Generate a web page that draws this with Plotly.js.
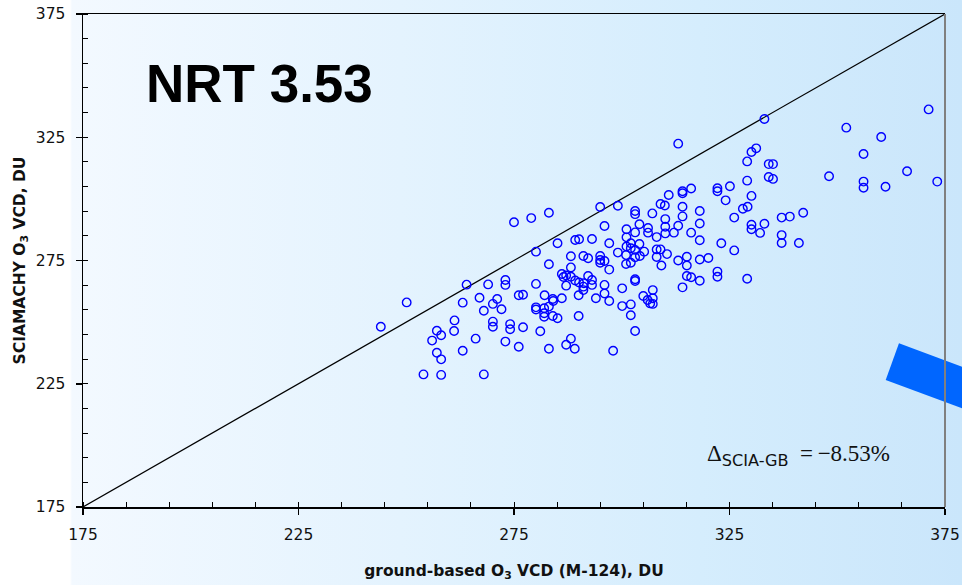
<!DOCTYPE html>
<html>
<head>
<meta charset="utf-8">
<script src="https://cdn.plot.ly/plotly-3.0.1.min.js"></script>
<style>
html,body{margin:0;padding:0;}
body{width:962px;height:585px;overflow:hidden;
background:linear-gradient(to right,#ffffff 0px,#ffffff 70px,#f3f9ff 72px,#e4f3fe 400px,#d5edfd 700px,#cae6fb 962px);}
#chart{width:962px;height:585px;}
</style>
</head>
<body>
<div id="chart"></div>
<script>
// ground-based O3 VCD (M-124), DU
const groundBased = [
244.1,250.1,254.0,256.0,257.1,257.1,258.1,258.1,258.1,261.2,261.1,263.1,263.1,264.0,266.1,267.0,268.0,268.0,269.0,270.1,
270.1,270.1,271.1,272.1,273.0,273.0,273.0,274.1,274.1,275.0,276.1,276.1,277.1,277.1,279.0,280.1,280.1,280.1,280.1,281.1,
282.1,282.0,282.0,282.0,283.1,283.1,283.1,283.1,284.0,284.1,284.0,285.1,285.1,
286.1,286.1,286.5,287.1,287.1,287.1,288.2,288.2,288.2,288.2,289.1,289.2,290.1,289.2,290.1,290.0,290.0,291.1,291.1,291.1,
292.2,292.2,293.1,293.1,293.1,294.0,295.0,295.0,295.0,295.0,296.0,296.0,296.0,296.0,297.1,297.1,297.1,298.0,299.1,299.1,
300.1,300.1,291.2,
301.1,301.1,301.1,301.0,301.0,302.1,302.1,302.1,302.1,302.1,303.1,303.1,303.1,303.1,303.1,303.1,303.1,303.1,304.1,304.1,
304.2,305.0,305.2,306.1,306.1,306.0,306.6,307.1,307.2,307.2,307.2,308.1,308.1,308.1,309.0,309.2,309.0,310.0,310.1,310.1,
310.1,310.5,310.9,312.1,313.1,313.1,313.1,314.1,314.1,314.1,314.1,314.1,315.1,315.1,315.1,316.1,316.1,316.1,318.1,318.1,
318.1,318.1,318.1,
320.1,322.2,322.2,322.2,322.2,323.1,324.1,325.1,326.1,326.1,328.1,329.2,329.1,329.1,329.1,330.1,330.1,330.1,330.1,331.2,
332.1,333.1,333.1,334.1,335.1,334.1,335.1,337.1,337.1,337.1,339.0,341.1,342.1,348.1,352.1,356.1,356.1,356.1,360.2,361.2,
366.2,371.2,373.2
];
// SCIAMACHY O3 VCD, DU
const sciamachy = [
248.1,258.0,228.8,242.5,246.5,237.6,244.7,234.9,228.6,250.7,246.4,257.9,238.4,265.2,243.3,259.9,254.6,228.8,265.3,257.4,
250.2,248.1,259.4,255.2,267.1,265.1,242.1,249.2,247.1,290.5,260.9,240.0,261.1,247.9,292.2,278.6,265.5,256.0,255.1,246.3,
260.9,255.6,253.6,252.2,294.4,273.5,256.3,239.2,259.4,258.6,252.5,282.0,251.6,
259.7,269.5,268.3,268.9,264.8,240.8,276.7,272.2,268.4,243.3,239.2,283.3,283.6,266.9,266.1,260.9,252.5,276.8,264.4,263.0,
275.9,268.7,283.7,267.1,265.1,259.7,296.7,276.8,275.2,274.1,274.8,289.0,265.1,261.6,282.0,271.3,258.6,238.4,297.2,278.2,
263.7,256.5,265.8,
287.7,284.4,280.7,277.2,273.6,282.0,280.0,274.1,257.2,252.8,295.1,293.8,286.4,279.3,276.3,267.4,266.7,246.4,289.7,281.7,
276.8,260.6,278.6,288.2,286.3,259.0,257.6,294.1,263.0,259.7,257.4,284.5,279.5,276.4,279.5,273.0,297.9,297.3,291.8,288.7,
286.0,277.6,301.6,286.3,322.4,289.1,275.0,303.1,302.3,296.8,292.9,264.1,276.5,273.0,268.7,304.2,286.3,268.2,295.1,290.0,
283.2,275.4,266.8,
276.0,304.3,303.1,270.5,268.4,282.0,299.4,305.1,292.4,279.1,296.0,296.8,315.2,307.4,267.6,319.0,301.2,289.5,287.7,320.5,
286.2,332.4,289.9,314.1,314.1,308.9,308.1,292.4,285.3,282.1,292.8,282.1,294.4,309.2,328.9,318.2,307.0,304.5,325.1,304.9,
311.2,336.3,307.0
];
const axisRange = [175, 375];
const tickValues = [175, 225, 275, 325, 375];
const chartLabel = 'NRT 3.53';
const deltaLabel = 'Δ<sub><span style="font-family:DejaVu Sans, Arial">SCIA-GB</span></sub>\u2002=\u2009−8.53%';

const sans = 'Liberation Sans, Arial, sans-serif';
const wide = 'DejaVu Sans, Arial, sans-serif';

const traces = [
  {x: axisRange, y: axisRange, mode: 'lines', line: {color: '#000', width: 1.2}, hoverinfo: 'skip', showlegend: false},
  {x: groundBased, y: sciamachy, mode: 'markers', type: 'scatter', showlegend: false,
   marker: {symbol: 'circle-open', size: 8.5, color: '#0000ff', line: {color: '#0000ff', width: 1.4}}}
];

const axisCommon = {
  range: axisRange, tickvals: tickValues, ticktext: tickValues.map(String),
  showgrid: false, zeroline: false, showline: true, linecolor: '#000', linewidth: 1.5,
  ticks: 'outside', ticklen: 6, tickwidth: 1.5, tickcolor: '#000',
  tickfont: {family: wide, size: 15.5, color: '#111'},
  minor: {dtick: 10, tick0: 175, ticks: 'inside', ticklen: 5, tickwidth: 1, tickcolor: '#000', showgrid: false}
};

const layout = {
  width: 962, height: 585,
  margin: {l: 83, r: 17, t: 14, b: 78},
  paper_bgcolor: 'rgba(0,0,0,0)', plot_bgcolor: 'rgba(0,0,0,0)',
  showlegend: false,
  xaxis: Object.assign({}, axisCommon, {
    mirror: true, ticklabelstandoff: 7,
    title: {text: 'ground-based O<sub>3</sub> VCD (M-124), DU', font: {family: wide, size: 15.5, color: '#111', weight: 'bold'}, standoff: 22}
  }),
  yaxis: Object.assign({}, axisCommon, {
    ticklabelstandoff: 7,
    title: {text: 'SCIAMACHY O<sub>3</sub> VCD, DU', font: {family: wide, size: 15.5, color: '#111', weight: 'bold'}, standoff: 6}
  }),
  shapes: [
    {type: 'path', xref: 'paper', yref: 'paper',
     path: 'M 0.9466 0.3320 L 0.9312 0.2576 L 1.0348 0.1905 L 1.0348 0.2748 Z',
     fillcolor: '#0066ff', line: {width: 0}},
    {type: 'line', xref: 'paper', yref: 'paper', x0: 1, x1: 1, y0: 0, y1: 1,
     line: {color: '#808080', width: 2}}
  ],
  annotations: [
    {text: '<b>' + chartLabel + '</b>', x: 216, y: 347, xref: 'x', yref: 'y', showarrow: false,
     font: {family: sans, size: 53, color: '#000'}},
    {text: deltaLabel, x: 341, y: 196, xref: 'x', yref: 'y', showarrow: false,
     font: {family: 'Liberation Serif, Times New Roman, serif', size: 23, color: '#111'}}
  ]
};

Plotly.newPlot('chart', traces, layout, {staticPlot: true, displayModeBar: false});
</script>
</body>
</html>
